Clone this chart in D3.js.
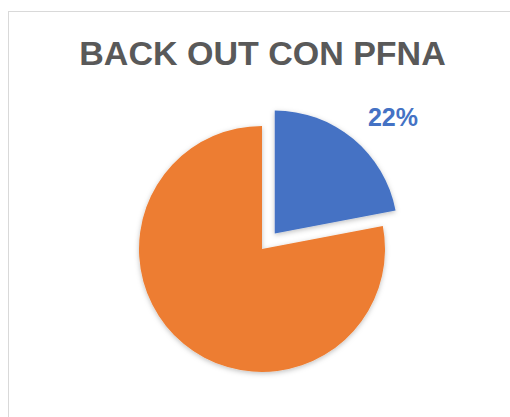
<!DOCTYPE html>
<html><head><meta charset="utf-8">
<script src="https://cdn.jsdelivr.net/npm/d3@7"></script>
<style>html,body{margin:0;padding:0;background:#fff;}svg{display:block;}</style>
</head><body>
<script>
const categories = ["Sí", "No"];
const values = [22, 78];
const colors = ["#4472C4", "#ED7D31"];
const labels = ["22%", ""];
const title = "BACK OUT CON PFNA";

const W = 510, H = 417;
const svg = d3.select("body").append("svg").attr("width", W).attr("height", H);

const defs = svg.append("defs");
const f = defs.append("filter").attr("id", "sh").attr("x", "-20%").attr("y", "-20%").attr("width", "140%").attr("height", "140%");
f.append("feDropShadow").attr("dx", 0).attr("dy", 1.5).attr("stdDeviation", 2.5).attr("flood-color", "#000").attr("flood-opacity", 0.25);

svg.append("rect").attr("x", 8.5).attr("y", 11.5).attr("width", W + 10).attr("height", H + 10)
  .attr("fill", "#fff").attr("stroke", "#d9d9d9").attr("stroke-width", 1);

svg.append("text").attr("x", 262.5).attr("y", 65).attr("text-anchor", "middle")
  .attr("font-family", "Liberation Sans, Arial, sans-serif").attr("font-weight", "bold")
  .attr("font-size", 34).attr("fill", "#595959").text(title);

const cx = 262, cy = 249, r = 123, explode = 20;
const pie = d3.pie().sort(null).value(d => d)(values);
const arc = d3.arc().innerRadius(0).outerRadius(r);

const g = svg.append("g").attr("transform", `translate(${cx},${cy})`);
g.selectAll("path").data(pie).join("path")
  .attr("d", arc)
  .attr("fill", (d, i) => colors[i])
  .attr("filter", "url(#sh)")
  .attr("transform", (d, i) => {
    if (i !== 0) return null;
    const a = (d.startAngle + d.endAngle) / 2;
    return `translate(${Math.sin(a) * explode},${-Math.cos(a) * explode})`;
  });

g.selectAll("text.lbl").data(pie.filter((d, i) => labels[i])).join("text")
  .attr("class", "lbl")
  .attr("x", 131).attr("y", -123)
  .attr("text-anchor", "middle")
  .attr("font-family", "Liberation Sans, Arial, sans-serif").attr("font-weight", "bold")
  .attr("font-size", 25).attr("fill", (d) => colors[d.index])
  .text(d => labels[d.index]);
</script>
</body></html>
